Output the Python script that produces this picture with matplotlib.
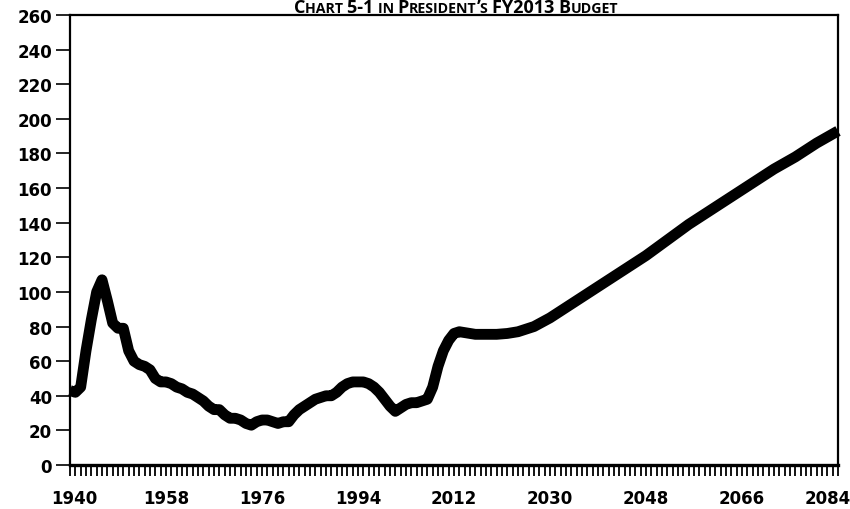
import matplotlib
matplotlib.use("Agg")
import matplotlib.pyplot as plt
from matplotlib.ticker import MultipleLocator
from matplotlib.transforms import ScaledTranslation

# historical values, 1940-2013
hist_years = list(range(1940, 2014))
hist_vals = [43, 42, 45, 66, 84, 100, 107, 95, 82, 79,
             79, 66, 60, 58, 57, 55, 50, 48, 48, 47,
             45, 44, 42, 41, 39, 37, 34, 32, 32, 29,
             27, 27, 26, 24, 23, 25, 26, 26, 25, 24,
             25, 25, 29, 32, 34, 36, 38, 39, 40, 40,
             42, 45, 47, 48, 48, 48, 47, 45, 42, 38,
             34, 31, 33, 35, 36, 36, 37, 38, 45, 57,
             66, 72, 76, 77]

# projection, 2014-2084
proj_years = [2014, 2015, 2016, 2018, 2020, 2022, 2024, 2027, 2030, 2033,
              2036, 2040, 2044, 2048, 2052, 2056, 2060, 2064, 2068, 2072,
              2076, 2080, 2084]
proj_vals = [76.5, 76, 75.5, 75.5, 75.5, 76, 77, 80, 85, 91,
             97, 105, 113, 121, 130, 139, 147, 155, 163, 171,
             178, 186, 193]

years = hist_years + proj_years
vals = hist_vals + proj_vals

x_labels = [1940, 1958, 1976, 1994, 2012, 2030, 2048, 2066, 2084]

fig = plt.figure(figsize=(8.5, 5.1), dpi=100)
ax = fig.add_axes([70 / 850, 44 / 510, 768 / 850, 450 / 510])

ax.plot(years, vals, color="black", lw=7.8, solid_capstyle="butt",
        solid_joinstyle="round", clip_on=False)

ax.set_xlim(1940, 2084)
ax.set_ylim(0, 260)
ax.yaxis.set_major_locator(MultipleLocator(20))
ax.set_xticks(x_labels)
ax.xaxis.set_minor_locator(MultipleLocator(1))

for sp in ax.spines.values():
    sp.set_linewidth(1.6)
ax.spines["bottom"].set_linewidth(2.4)

ax.tick_params(axis="y", direction="out", length=10, width=1.2, pad=3,
               labelsize=12)
ax.tick_params(axis="x", which="both", direction="out", length=8, width=1.3,
               pad=9, labelsize=12)
for lab in ax.get_xticklabels() + ax.get_yticklabels():
    lab.set_fontweight("bold")
    lab.set_fontfamily("DejaVu Sans")

# nudge first/last x labels inward like the original
xl = ax.get_xticklabels()
xl[0].set_transform(xl[0].get_transform() + ScaledTranslation(4 / 100, 0, fig.dpi_scale_trans))
xl[-1].set_transform(xl[-1].get_transform() + ScaledTranslation(-10 / 100, 0, fig.dpi_scale_trans))

# small-caps title at the very top
pieces = [("C", 1), ("HART ", 0), ("5-1 ", 1), ("IN ", 0), ("P", 1),
          ("RESIDENT", 0), ("\u2019", 1), ("S ", 0), ("FY2013 ", 1),
          ("B", 1), ("UDGET", 0)]
big, small = 13.0, 10.2
renderer = fig.canvas.get_renderer()
texts = []
x = 0
for s, is_big in pieces:
    t = fig.text(x, 0, s, fontsize=big if is_big else small, fontweight="bold",
                 family="Open Sans", va="baseline", ha="left",
                 transform=None)
    w = t.get_window_extent(renderer).width
    texts.append((t, x))
    x += w
total = x
x0 = 456 - total / 2
y_base = 510 - 13.2
for t, off in texts:
    t.set_position((x0 + off, y_base))

fig.savefig("out.png", dpi=100)
